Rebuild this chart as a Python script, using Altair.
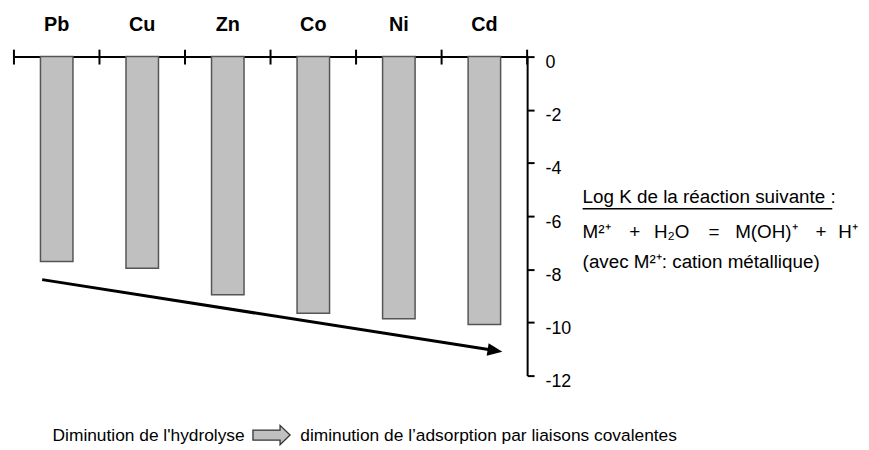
import altair as alt
import pandas as pd

# ---- data ----
metals = ["Pb", "Cu", "Zn", "Co", "Ni", "Cd"]
log_k = [-7.71, -7.96, -8.96, -9.65, -9.86, -10.08]
y_ticks = [0, -2, -4, -6, -8, -10, -12]
boundaries = list(range(len(metals) + 1))
# trend arrow (category units on x, log K units on y)
trend_x = [0.33, 5.71]
trend_y = [-8.39, -11.10]

FONT = "Liberation Sans, Arial, Helvetica, sans-serif"

W, H = 518, 322

df = pd.DataFrame({"metal": metals, "logk": log_k})
bdf = pd.DataFrame({"b": boundaries})
frac = 0.03
adf = pd.DataFrame({
    "x": [trend_x[0]],
    "x2": [trend_x[1] - (trend_x[1] - trend_x[0]) * frac],
    "y": [trend_y[0]],
    "y2": [trend_y[1] - (trend_y[1] - trend_y[0]) * frac],
})
tip = pd.DataFrame({"x": [trend_x[1]], "y": [trend_y[1]]})
dummy = pd.DataFrame({"a": [0]})

yscale = alt.Scale(domain=[-12, 0], nice=False)
qx = alt.Scale(domain=[0, len(metals)], nice=False, zero=False)

bars = alt.Chart(df).mark_bar(color="#c0c0c0", stroke="#555555", strokeWidth=1.5).encode(
    x=alt.X("metal:N", sort=metals,
            scale=alt.Scale(paddingInner=0.62, paddingOuter=0.31),
            axis=alt.Axis(orient="top", title=None, labelAngle=0, labelFont=FONT,
                          labelFontWeight="bold", labelFontSize=20, labelColor="black",
                          ticks=False, tickSize=0, labelPadding=26,
                          labelBaseline="alphabetic", domainColor="black", domainWidth=2)),
    y=alt.Y("logk:Q", scale=yscale,
            axis=alt.Axis(orient="right", title=None, values=y_ticks, grid=False,
                          domainColor="black", domainWidth=2, tickColor="black",
                          tickWidth=2, tickSize=7, labelPadding=11, labelFont=FONT,
                          labelFontSize=18, labelColor="black", labelOffset=6,
                          labelAlign="left", labelBaseline="middle",
                          labelExpr="datum.value < 0 ? '-' + abs(datum.value) : '' + datum.value")),
)

ticks = alt.Chart(bdf).mark_rule(color="black", strokeWidth=2).encode(
    x=alt.X("b:Q", scale=qx, axis=None),
    y=alt.value(-7), y2=alt.value(8),
)

arrow_line = alt.Chart(adf).mark_rule(color="black", strokeWidth=3).encode(
    x=alt.X("x:Q", scale=qx, axis=None), x2="x2:Q",
    y=alt.Y("y:Q", scale=yscale), y2="y2:Q",
)

arrow_head = alt.Chart(tip).mark_point(
    shape="M -2 -0.85 L 0 0 L -2 0.85 Z", size=225, filled=True, color="black",
    opacity=1, angle=8.9, strokeWidth=0,
).encode(
    x=alt.X("x:Q", scale=qx, axis=None),
    y=alt.Y("y:Q", scale=yscale),
)


def label(txt, x, y, size=19):
    return alt.Chart(dummy).mark_text(
        text=txt, font=FONT, fontSize=size, align="left", baseline="alphabetic", color="black"
    ).encode(x=alt.value(x), y=alt.value(y))


texts = [
    label("Log K de la réaction suivante :", 574, 148),
    label("M²⁺", 574, 183),
    label("+", 621, 183),
    label("H₂O", 646, 183),
    label("=", 701, 183),
    label("M(OH)⁺", 728, 183),
    label("+", 809, 183),
    label("H⁺", 832, 183),
    label("(avec M²⁺: cation métallique)", 574, 213),
    label("Diminution de l'hydrolyse", 39, 388, size=17.5),
    label("diminution de l’adsorption par liaisons covalentes", 289, 388, size=17.5),
]

underline = alt.Chart(dummy).mark_rule(color="black", strokeWidth=1.5).encode(
    x=alt.value(574), x2=alt.value(826), y=alt.value(153.5)
)

block_arrow = alt.Chart(dummy).mark_point(
    shape="M -1 -0.27 L 0.46 -0.27 L 0.46 -0.52 L 1 0 L 0.46 0.52 L 0.46 0.27 L -1 0.27 Z",
    size=1406, filled=True, fill="#c0c0c0", stroke="#333333", strokeWidth=1.3, opacity=1,
).encode(x=alt.value(260), y=alt.value(382))

chart = alt.layer(
    bars, ticks, arrow_line, arrow_head, underline, block_arrow, *texts
).resolve_scale(x="independent").properties(
    width=W, height=H,
    background="white",
    autosize=alt.AutoSizeParams(type="none"),
    padding={"left": 6, "top": 47, "right": 337, "bottom": 71},
).configure_view(stroke=None, strokeWidth=0)

chart.save("out.html", embed_options={"renderer": "svg", "actions": False})
